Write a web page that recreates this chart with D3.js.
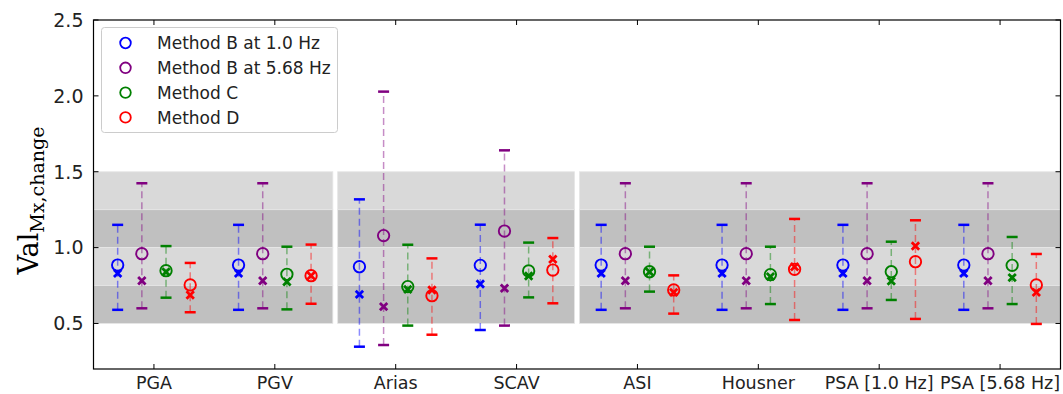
<!DOCTYPE html>
<html><head><meta charset="utf-8">
<script src="https://cdn.jsdelivr.net/npm/d3@7"></script>
<style>body{margin:0;background:#fff}svg{display:block}</style>
</head><body>
<svg id="c" width="1063" height="394"></svg>
<script>
const categories = ["PGA","PGV","Arias","SCAV","ASI","Housner","PSA [1.0 Hz]","PSA [5.68 Hz]"];
const methods = ["Method B at 1.0 Hz","Method B at 5.68 Hz","Method C","Method D"];
const colors = ["#0000ff","#800080","#008000","#ff0000"];
const yTicks = [0.5,1.0,1.5,2.0,2.5];

const circB1 = [0.885,0.885,0.874,0.883,0.885,0.885,0.885,0.885];
const crossB1 = [0.83,0.83,0.692,0.76,0.83,0.83,0.83,0.83];
const lowB1 = [0.59,0.59,0.347,0.457,0.59,0.59,0.59,0.59];
const highB1 = [1.15,1.15,1.318,1.151,1.15,1.15,1.15,1.15];

const circB5 = [0.96,0.96,1.079,1.109,0.96,0.96,0.96,0.96];
const crossB5 = [0.782,0.782,0.611,0.732,0.782,0.782,0.782,0.782];
const lowB5 = [0.60,0.60,0.358,0.486,0.60,0.60,0.60,0.60];
const highB5 = [1.424,1.424,2.028,1.641,1.424,1.424,1.424,1.424];

const circC = [0.848,0.824,0.743,0.846,0.841,0.822,0.841,0.883];
const crossC = [0.84,0.775,0.725,0.813,0.84,0.809,0.78,0.802];
const lowC = [0.67,0.593,0.486,0.672,0.71,0.628,0.655,0.628];
const highC = [1.01,1.006,1.019,1.033,1.006,1.006,1.039,1.07];

const circD = [0.754,0.815,0.683,0.852,0.721,0.857,0.907,0.754];
const crossD = [0.688,0.815,0.721,0.923,0.705,0.874,1.011,0.705];
const lowD = [0.574,0.63,0.426,0.633,0.565,0.523,0.53,0.497];
const highD = [0.899,1.02,0.929,1.063,0.817,1.189,1.18,0.958];

const offsets = [-0.3,-0.1,0.1,0.3];
const bandGroups = [[-0.5,1.48],[1.52,3.48],[3.52,7.5]];
const bands = [[1.25,1.5,"#d9d9d9"],[1.0,1.25,"#c0c0c0"],[0.75,1.0,"#d9d9d9"],[0.5,0.75,"#c0c0c0"]];

const series = [
  {circ:circB1,cross:crossB1,low:lowB1,high:highB1},
  {circ:circB5,cross:crossB5,low:lowB5,high:highB5},
  {circ:circC,cross:crossC,low:lowC,high:highC},
  {circ:circD,cross:crossD,low:lowD,high:highD}
];

const L=93.5, R=1060.5, T=20, B=369;
const x = d3.scaleLinear().domain([-0.5,7.5]).range([L,R]);
const y = d3.scaleLinear().domain([0.2,2.5]).range([B,T]);
const svg = d3.select("#c");

// bands
bandGroups.forEach(g=>{
  bands.forEach(b=>{
    svg.append("rect").attr("x",x(g[0])).attr("width",x(g[1])-x(g[0]))
      .attr("y",y(b[1])).attr("height",y(b[0])-y(b[1])).attr("fill",b[2])
      .attr("stroke","#e6e6e6").attr("stroke-width",0.8);
  });
});

// error bars and markers
series.forEach((s,m)=>{
  const col = colors[m];
  const g = svg.append("g");
  categories.forEach((c,i)=>{
    const cx = x(i+offsets[m]);
    g.append("line").attr("x1",cx).attr("x2",cx).attr("y1",y(s.low[i])).attr("y2",y(s.high[i]))
      .attr("stroke",col).attr("stroke-opacity",0.45).attr("stroke-width",1.5).attr("stroke-dasharray","7,4");
    [s.low[i],s.high[i]].forEach(v=>{
      g.append("line").attr("x1",cx-5.5).attr("x2",cx+5.5).attr("y1",y(v)).attr("y2",y(v))
        .attr("stroke",col).attr("stroke-width",2.5);
    });
    g.append("circle").attr("cx",cx).attr("cy",y(s.circ[i])).attr("r",5.7)
      .attr("fill","none").attr("stroke",col).attr("stroke-width",1.9);
    const cy = y(s.cross[i]), k=3.7;
    g.append("path").attr("d",`M${cx-k},${cy-k}L${cx+k},${cy+k}M${cx-k},${cy+k}L${cx+k},${cy-k}`)
      .attr("stroke",col).attr("stroke-width",2.8).attr("fill","none");
  });
});

// axes frame
svg.append("rect").attr("x",L).attr("y",T).attr("width",R-L).attr("height",B-T)
  .attr("fill","none").attr("stroke","#000").attr("stroke-width",1.2);

const tl = 5;
categories.forEach((c,i)=>{
  const cx = x(i);
  svg.append("line").attr("x1",cx).attr("x2",cx).attr("y1",B).attr("y2",B-tl).attr("stroke","#000").attr("stroke-width",1);
  svg.append("line").attr("x1",cx).attr("x2",cx).attr("y1",T).attr("y2",T+tl).attr("stroke","#000").attr("stroke-width",1);
  svg.append("text").attr("x",cx).attr("y",B+20).attr("text-anchor","middle")
    .attr("font-family","DejaVu Sans").attr("font-size",17.5).attr("fill","#222").text(c);
});
yTicks.forEach(v=>{
  svg.append("line").attr("x1",L).attr("x2",L+tl).attr("y1",y(v)).attr("y2",y(v)).attr("stroke","#000");
  svg.append("line").attr("x1",R).attr("x2",R-tl).attr("y1",y(v)).attr("y2",y(v)).attr("stroke","#000");
  svg.append("text").attr("x",L-10).attr("y",y(v)).attr("dy","0.36em").attr("text-anchor","end")
    .attr("font-family","DejaVu Sans").attr("font-size",19).attr("fill","#222").text(v.toFixed(1));
});

// y label
const yl = svg.append("text").attr("transform",`translate(38,${(T+B)/2+6}) rotate(-90)`)
  .attr("text-anchor","middle").attr("font-family","DejaVu Serif").attr("fill","#000");
yl.append("tspan").attr("font-size",27).text("Val");
yl.append("tspan").attr("font-size",19).attr("dy",6).text("Mx,change");

// legend
const lg = svg.append("g");
lg.append("rect").attr("x",101.5).attr("y",27.5).attr("width",236).attr("height",105).attr("rx",3)
  .attr("fill","#fff").attr("fill-opacity",0.85).attr("stroke","#ccc").attr("stroke-width",1);
methods.forEach((mName,m)=>{
  const yy = 43 + m*24.8;
  lg.append("circle").attr("cx",125.5).attr("cy",yy).attr("r",5.3).attr("fill","none")
    .attr("stroke",colors[m]).attr("stroke-width",1.8);
  lg.append("text").attr("x",157).attr("y",yy).attr("dy","0.36em")
    .attr("font-family","DejaVu Sans").attr("font-size",17).attr("fill","#222").text(mName);
});
</script>
</body></html>
